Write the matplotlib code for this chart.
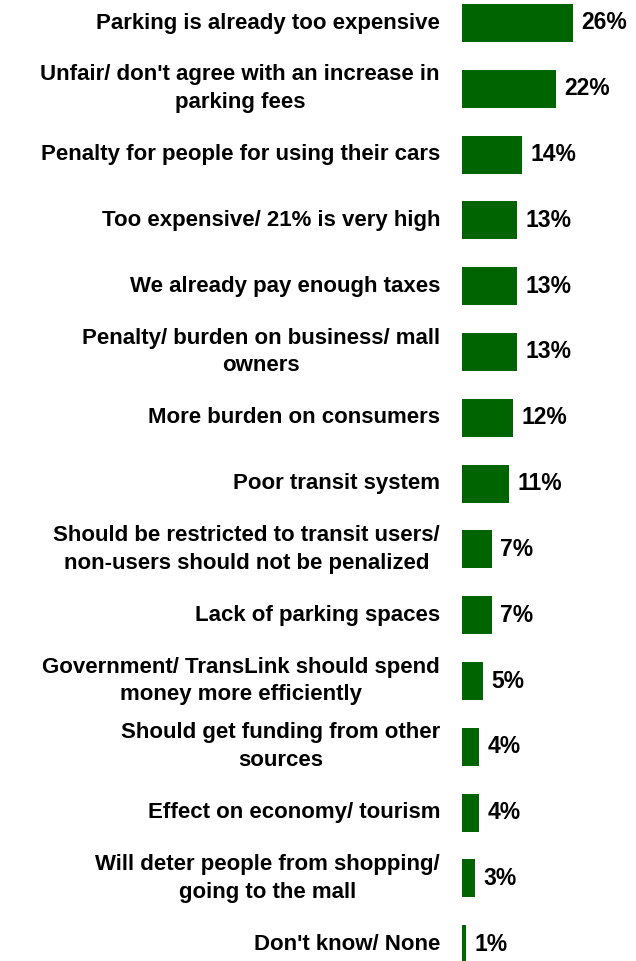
import matplotlib.pyplot as plt

plt.rcParams['font.family'] = ['Liberation Sans', 'DejaVu Sans']

reasons = [
    "Parking is already too expensive",
    "Unfair/ don't agree with an increase in\nparking fees",
    "Penalty for people for using their cars",
    "Too expensive/ 21% is very high",
    "We already pay enough taxes",
    "Penalty/ burden on business/ mall\nowners",
    "More burden on consumers",
    "Poor transit system",
    "Should be restricted to transit users/\nnon-users should not be penalized",
    "Lack of parking spaces",
    "Government/ TransLink should spend\nmoney more efficiently",
    "Should get funding from other\nsources",
    "Effect on economy/ tourism",
    "Will deter people from shopping/\ngoing to the mall",
    "Don't know/ None",
]
percent = [26, 22, 14, 13, 13, 13, 12, 11, 7, 7, 5, 4, 4, 3, 1]

W, H = 636, 961
fig = plt.figure(figsize=(W / 100, H / 100), dpi=100)
ax = fig.add_axes([462 / W, 0, (W - 462) / W, 1])

rows = list(range(len(reasons)))
ax.barh(rows, percent, height=0.58, color='#006400')

# row centres sit roughly 66 px apart, first one near the top edge
top_px, step_px = 23, 65.8
ax.set_ylim((H - top_px) / step_px, -top_px / step_px)
ax.set_xlim(0, (W - 462) / 4.25)

for r, p in zip(rows, percent):
    ax.text(p + 2.0, r, f"{p}%", va='center', ha='left',
            fontsize=16.5, fontweight='bold', color='black')
    fig.text(440 / W, 1 - (top_px + r * step_px) / H, reasons[r],
             ha='right', va='center', multialignment='center',
             fontsize=16, fontweight='bold', linespacing=1.42)

ax.axis('off')
fig.savefig('out.png', dpi=100)
